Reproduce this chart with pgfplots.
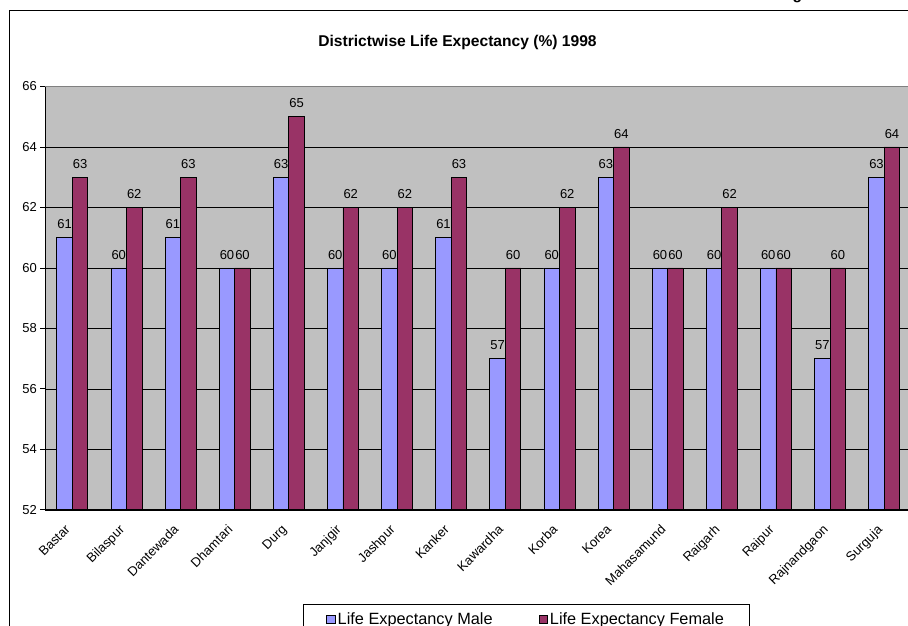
\documentclass[border=0pt]{standalone}
\usepackage{pgfplots}
\usepackage{pgfplotstable}
\pgfplotsset{compat=1.18}
\usepackage{fontspec}
\setmainfont{Liberation Sans}

\definecolor{maleblue}{HTML}{9999FF}
\definecolor{femalewine}{HTML}{993366}
\definecolor{plotgray}{HTML}{C0C0C0}
\definecolor{bordergray}{HTML}{808080}

% Life expectancy by district, 1998
\pgfplotstableread{
idx name        male female
0   Bastar      61   63
1   Bilaspur    60   62
2   Dantewada   61   63
3   Dhamtari    60   60
4   Durg        63   65
5   Janjgir     60   62
6   Jashpur     60   62
7   Kanker      61   63
8   Kawardha    57   60
9   Korba       60   62
10  Korea       63   64
11  Mahasamund  60   60
12  Raigarh     60   62
13  Raipur      60   60
14  Rajnandgaon 57   60
15  Surguja     63   64
}\lifeexp

\begin{document}
\begin{tikzpicture}[x=1pt,y=1pt]
\useasboundingbox (0,0) rectangle (908,625);
\clip (0,0) rectangle (908,625);
% chart frame
\draw[line width=1pt] (9,-5) -- (9,614) -- (915,614);
\node[anchor=base east, font=\bfseries\fontsize{15.6}{18}\selectfont] at (830,625.7) {Figure};
\node[anchor=base, font=\bfseries\fontsize{15.6}{18}\selectfont] at (457.5,578) {Districtwise Life Expectancy (\%) 1998};
\begin{axis}[
  at={(45.3pt,115.2pt)}, anchor=south west,
  scale only axis, width=866pt, height=423.3pt,
  xmin=-0.5, xmax=15.5, ymin=52, ymax=66,
  /pgf/number format/assume math mode=true,
  axis x line*=bottom, axis y line*=left,
  axis line style={-, draw=black, line width=0.8pt},
  axis background/.style={fill=plotgray, draw=bordergray, line width=0.8pt},
  ytick={52,54,...,64},
  extra y ticks={66}, extra y tick style={grid=none},
  ymajorgrids, major grid style={draw=black, line width=0.6pt},
  xtick={0,...,15},
  xticklabels from table={\lifeexp}{name},
  xtick style={draw=none},
  minor xtick={-0.5,0.5,...,15.5},
  minor tick length=5pt, major tick length=5pt,
  tick align=outside,
  tick style={draw=black, line width=0.8pt},
  ticklabel style={font=\fontsize{13}{15}\selectfont},
  xticklabel style={xshift=-8pt, yshift=-9pt, rotate=45, anchor=north east, inner sep=0pt},
  ybar=0pt, bar width=15.5pt,
  nodes near coords,
  every node near coord/.append style={font=\fontsize{13}{15}\selectfont, text=black, yshift=5pt},
  legend columns=2,
  legend style={at={(0.2976,-0.2232)}, anchor=north west, draw=black, fill=white,
    line width=0.8pt, inner xsep=23pt, inner ysep=6.5pt,
    font=\fontsize{16.3}{19}\selectfont,
    /tikz/every even column/.append style={column sep=44pt}},
  legend image code/.code={\draw[#1, draw=black, line width=0.8pt] (0pt,-4pt) rectangle (8.5pt,4.5pt);},
]
\addplot[fill=maleblue, draw=black, line width=0.8pt] table[x=idx, y=male] {\lifeexp};
\addplot[fill=femalewine, draw=black, line width=0.8pt] table[x=idx, y=female] {\lifeexp};
\legend{Life Expectancy Male, Life Expectancy Female}
\end{axis}
\end{tikzpicture}
\end{document}
